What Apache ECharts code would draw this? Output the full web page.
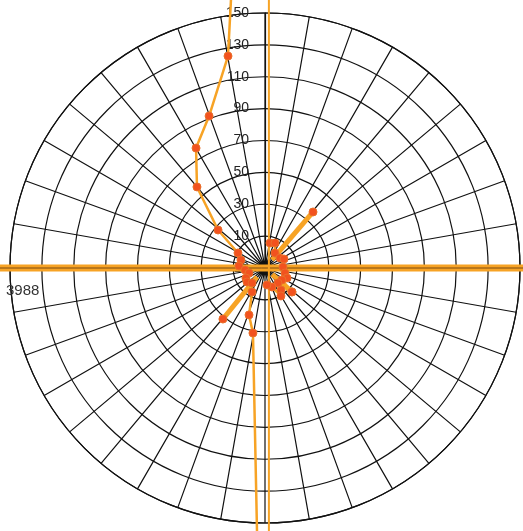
<!DOCTYPE html>
<html>
<head>
<meta charset="utf-8">
<script src="https://cdn.jsdelivr.net/npm/echarts@6/dist/echarts.min.js"></script>
<style>
  html, body { margin: 0; padding: 0; background: #fff; }
  #chart { width: 523px; height: 531px; }
</style>
</head>
<body>
<div id="chart"></div>
<script>
// Radius ticks (value scale) and compass spokes
const radiusMin = -10;
const radiusMax = 150;
const radiusStep = 20;
const spokeStep = 10;

// Main track: radius values and compass bearings (deg, clockwise from north)
const trackRadius = [400, 125.0, 91.6, 76.8, 56.4, 27.9, 9.4, 5.9, 6.4, 2.6, 0.5, 3.5, 4.3, 2.4, 7.1, 21.1, 31.5, 400];
const trackBearing = [358.8, 350.1, 339.8, 330.1, 320.0, 309.0, 299.1, 288.4, 274.4, 264.3, 252.6, 242.2, 232.1, 220.9, 208.4, 198.8, 190.5, 180.0];

// Eastern cluster near the pole
const clusterRadius = [6.0, 6.9, 1.3, 1.3, 3.2, 1.3, 2.9, 5.2, 3.0, 12.6, 2.4, 7.1, 10.2, 2.7, 0.7];
const clusterBearing = [11.3, 21.8, 33.7, 56.3, 64.7, 86.8, 104.0, 114.4, 125.2, 131.6, 139.1, 144.0, 150.3, 159.8, 173.3];

// Heavy rays out of the pole: [start radius, end radius] and bearing pairs
const rayRadius = [[-3.3, 36.3], [-2.5, 31.5], [-4.0, 12.6]];
const rayBearing = [[41.0, 40.6], [221.6, 219.5], [131.0, 131.6]];

// Reference cross through the pole
const crossValue = 3988;
const crossH = [[crossValue, 270], [crossValue, 90]];
const crossV = [[crossValue, 0.035], [crossValue, 179.965]];

const ORANGE = '#f7a325';
const DOT = '#f2521f';

const CENTER = [265, 268];
const RADIUS = 255;
// An outer, invisible polar frame on the same scale so that lines may run
// past the 150 ring up to the page edges.
const OUTER_SCALE = 3;

const pts = (r, a) => r.map((v, i) => [v, a[i]]);

const trackData = pts(trackRadius, trackBearing).map(p =>
  p[0] > radiusMax ? { value: p, symbol: 'none' } : p);
const clusterData = pts(clusterRadius, clusterBearing);

const rayData = [];
rayRadius.forEach((rr, i) => {
  if (i > 0) rayData.push(['-', '-']);
  rayData.push({ value: [rr[0], rayBearing[i][0]], symbol: 'none' });
  rayData.push([rr[1], rayBearing[i][1]]);
});

const gridLine = { color: '#111', width: 1.2 };
const hidden = { show: false };

const chart = echarts.init(document.getElementById('chart'), null, { renderer: 'canvas' });

chart.setOption({
  backgroundColor: '#ffffff',
  animation: false,
  polar: [
    { center: CENTER, radius: RADIUS },
    { center: CENTER, radius: RADIUS * OUTER_SCALE }
  ],
  angleAxis: [
    {
      polarIndex: 0,
      type: 'value', min: 0, max: 360, interval: spokeStep,
      startAngle: 90, clockwise: true,
      axisLine: { show: true, lineStyle: gridLine },
      axisTick: hidden, axisLabel: hidden,
      splitLine: { show: true, lineStyle: gridLine }
    },
    {
      polarIndex: 1,
      type: 'value', min: 0, max: 360,
      startAngle: 90, clockwise: true,
      axisLine: hidden, axisTick: hidden, axisLabel: hidden, splitLine: hidden
    }
  ],
  radiusAxis: [
    {
      polarIndex: 0,
      type: 'value', min: radiusMin, max: radiusMax, interval: radiusStep,
      axisLine: { show: true, lineStyle: gridLine },
      axisTick: hidden,
      axisLabel: {
        show: true, margin: 16, color: '#222',
        fontFamily: 'Liberation Sans', fontSize: 14
      },
      splitLine: { show: true, lineStyle: gridLine }
    },
    {
      polarIndex: 1,
      type: 'value', min: radiusMin,
      max: radiusMin + (radiusMax - radiusMin) * OUTER_SCALE,
      axisLine: hidden, axisTick: hidden, axisLabel: hidden, splitLine: hidden
    }
  ],
  graphic: [{
    type: 'text', left: 6, top: 283, z: 10,
    style: { text: String(crossValue), fill: '#333', font: '15px "Liberation Sans"' }
  }],
  series: [
    {
      type: 'line', coordinateSystem: 'polar', polarIndex: 1, clip: false, z: 2,
      data: crossH, symbol: 'none',
      lineStyle: { color: ORANGE, width: 7 }
    },
    {
      type: 'line', coordinateSystem: 'polar', polarIndex: 1, clip: false, z: 3,
      data: crossH, symbol: 'none',
      lineStyle: { color: '#7a4a12', width: 1 }
    },
    {
      type: 'line', coordinateSystem: 'polar', polarIndex: 1, clip: false, z: 3,
      data: crossV, symbol: 'none',
      lineStyle: { color: ORANGE, width: 2 }
    },
    {
      type: 'line', coordinateSystem: 'polar', polarIndex: 1, clip: false, z: 4,
      data: rayData, connectNulls: false,
      symbol: 'circle', symbolSize: 8, showAllSymbol: true,
      lineStyle: { color: ORANGE, width: 5 },
      itemStyle: { color: DOT, borderColor: '#e9702a', borderWidth: 1 }
    },
    {
      type: 'line', coordinateSystem: 'polar', polarIndex: 1, clip: false, z: 5,
      data: clusterData,
      symbol: 'circle', symbolSize: 8, showAllSymbol: true,
      lineStyle: { color: ORANGE, width: 2.5 },
      itemStyle: { color: DOT, borderColor: '#e9702a', borderWidth: 1 }
    },
    {
      type: 'line', coordinateSystem: 'polar', polarIndex: 1, clip: false, z: 6,
      data: trackData,
      symbol: 'circle', symbolSize: 8, showAllSymbol: true,
      lineStyle: { color: ORANGE, width: 2.5 },
      itemStyle: { color: DOT, borderColor: '#e9702a', borderWidth: 1 }
    }
  ]
});
</script>
</body>
</html>
